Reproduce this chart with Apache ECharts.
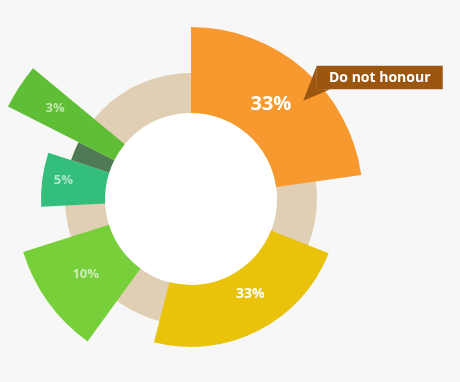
<!DOCTYPE html>
<html>
<head>
<meta charset="utf-8">
<script src="https://cdn.jsdelivr.net/npm/echarts@6/dist/echarts.min.js"></script>
<style>
  html, body { margin: 0; padding: 0; background: #f7f7f7; }
  #chart { width: 460px; height: 382px; }
</style>
</head>
<body>
<div id="chart"></div>
<script>
// ---- data ----
const shareLabels = ['33%', '33%', '10%', '5%', '', '3%'];
const startAngles = [0, 111.5, 216, 267, 288, 296.8];
const endAngles   = [82, 194.5, 252.5, 288, 296.8, 309.6];
const outerValues = [86, 62, 90, 64, 40, 119];
const ringValue = 40;
const calloutText = 'Do not honour';

// ---- styles ----
const colors = ['#f8992f', '#e9c30a', '#77cf3a', '#33be7b', '#4e7b55', '#5fbe35'];
const labelFill = ['#ffffff', '#ffffff', 'rgba(255,255,255,0.62)', 'rgba(255,255,255,0.62)', '#ffffff', 'rgba(255,255,255,0.62)'];
const labelSize = [20, 14, 13, 13, 13, 13];
// label placement as fractions of each sector's angle span / radial depth
const labelPlace = [[0.49, 0.44], [0.44, 0.42], [0.51, 0.48], [0.53, 0.67], [0.5, 0.5], [0.54, 0.65]];
const FONT = '"Open Sans", "Noto Sans", sans-serif';

function geom(params, api, a0, a1, rv) {
  const cs = params.coordSys;
  const cx = cs.cx, cy = cs.cy;
  const pin = api.coord([0, a0]);
  const p0 = api.coord([rv, a0]);
  const p1 = api.coord([rv, a1]);
  const r0 = Math.hypot(pin[0] - cx, pin[1] - cy);
  const r = Math.hypot(p0[0] - cx, p0[1] - cy);
  let sa = Math.atan2(p0[1] - cy, p0[0] - cx);
  let ea = Math.atan2(p1[1] - cy, p1[0] - cx);
  if (ea <= sa) ea += Math.PI * 2;
  return { cx, cy, r0, r, sa, ea };
}

function renderRing(params, api) {
  const rv = api.value(0);
  const g = geom(params, api, 0, 180, rv);
  return {
    type: 'group',
    children: [
      { type: 'sector', shape: { cx: g.cx, cy: g.cy, r0: g.r0, r: g.r, startAngle: 0, endAngle: Math.PI * 2 },
        style: { fill: '#e0cfb4' } },
      { type: 'circle', shape: { cx: g.cx, cy: g.cy, r: g.r0 }, style: { fill: '#ffffff' } }
    ]
  };
}

function renderSector(params, api) {
  const i = params.dataIndex;
  const a0 = api.value(0), a1 = api.value(1), rv = api.value(2);
  const g = geom(params, api, a0, a1, rv);
  const children = [{
    type: 'sector',
    shape: { cx: g.cx, cy: g.cy, r0: g.r0, r: g.r, startAngle: g.sa, endAngle: g.ea, clockwise: true },
    style: { fill: colors[i] }
  }];
  if (shareLabels[i]) {
    const lp = labelPlace[i];
    const p = api.coord([rv * lp[1], a0 + (a1 - a0) * lp[0]]);
    children.push({
      type: 'text', x: p[0], y: p[1], z2: 10,
      style: { text: shareLabels[i], fill: labelFill[i], fontSize: labelSize[i], fontWeight: 'bold',
               fontFamily: FONT, align: 'center', verticalAlign: 'middle' }
    });
  }
  if (i === 0) {
    const t = api.coord([rv * 0.735, a0 + (a1 - a0) * 0.595]);
    const tx = t[0], ty = t[1];
    const bx = tx + 13.5, by = ty - 35, bw = 126, bh = 23.5;
    children.push({
      type: 'polygon', z2: 20,
      shape: { points: [[bx, by], [tx, ty], [tx + 27, by + bh], [bx, by + bh]] },
      style: { fill: '#9b560f' }
    });
    children.push({
      type: 'rect', z2: 20, shape: { x: bx, y: by, width: bw, height: bh },
      style: { fill: '#9b560f' }
    });
    children.push({
      type: 'text', z2: 21, x: bx + bw / 2, y: by + bh / 2 + 0.5,
      style: { text: calloutText, fill: '#ffffff', fontSize: 14, fontWeight: 'bold',
               fontFamily: FONT, align: 'center', verticalAlign: 'middle' }
    });
  }
  return { type: 'group', children };
}

const chart = echarts.init(document.getElementById('chart'), null, { renderer: 'canvas' });
chart.setOption({
  backgroundColor: '#f7f7f7',
  animation: false,
  polar: { center: [191, 199], radius: [86, 205] },
  angleAxis: { type: 'value', min: 0, max: 360, startAngle: 90, clockwise: true, show: false },
  radiusAxis: { type: 'value', min: 0, max: 119, show: false },
  series: [
    { type: 'custom', coordinateSystem: 'polar', renderItem: renderRing, data: [[ringValue, 0]], silent: true },
    { type: 'custom', coordinateSystem: 'polar', renderItem: renderSector,
      encode: { radius: 2, angle: 0 },
      data: startAngles.map((s, i) => [s, endAngles[i], outerValues[i]]), silent: true }
  ]
});
</script>
</body>
</html>
